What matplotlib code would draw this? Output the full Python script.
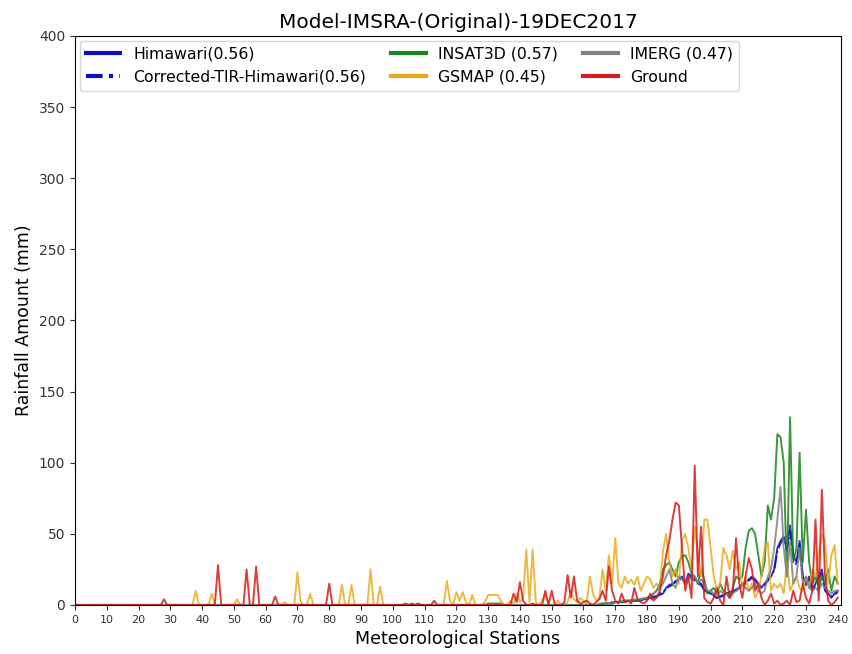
import numpy as np
import matplotlib.pyplot as plt

# ---- station readings (mm), stations 0..240 ----
stations = np.arange(241)

himawari = [
    0, 0, 0, 0, 0, 0, 0, 0, 0, 0, 0, 0, 0, 0, 0, 0, 0, 0, 0, 0,
    0, 0, 0, 0, 0, 0, 0, 0, 0, 0, 0, 0, 0, 0, 0, 0, 0, 0, 0, 0,
    0, 0, 0, 0, 0, 0, 0, 0, 0, 0, 0, 0, 0, 0, 0, 0, 0, 0, 0, 0,
    0, 0, 0, 0, 0, 0, 0, 0, 0, 0, 0, 0, 0, 0, 0, 0, 0, 0, 0, 0,
    0, 0, 0, 0, 0, 0, 0, 0, 0, 0, 0, 0, 0, 0, 0, 0, 0, 0, 0, 0,
    0, 0, 0, 0, 0, 0, 0, 0, 0, 0, 0, 0, 0, 0, 0, 0, 0, 0, 0, 0,
    0, 0, 0, 0, 0, 0, 0, 0, 0, 0, 0, 0, 0, 0, 0, 0, 0, 0, 0, 0,
    0, 0, 0, 0, 0, 0, 0, 0, 0, 0, 0, 0, 0, 0, 0, 0, 0, 0, 0, 0,
    0, 0, 0, 0, 0, 0, 1, 1, 1, 2, 2, 2, 2, 3, 3, 3, 3, 3, 4, 4,
    4, 5, 6, 6, 7, 8, 12, 14, 15, 16, 18, 20, 15, 22, 20, 18, 16, 15, 10, 9,
    8, 7, 5, 6, 7, 8, 9, 10, 10, 12, 15, 16, 18, 20, 18, 15, 12, 15, 18, 20,
    25, 40, 45, 48, 40, 56, 35, 30, 45, 20, 15, 20, 10, 15, 20, 25, 10, 8, 5, 8,
    10]

corrected = [
    0, 0, 0, 0, 0, 0, 0, 0, 0, 0, 0, 0, 0, 0, 0, 0, 0, 0, 0, 0,
    0, 0, 0, 0, 0, 0, 0, 0, 0, 0, 0, 0, 0, 0, 0, 0, 0, 0, 0, 0,
    0, 0, 0, 0, 0, 0, 0, 0, 0, 0, 0, 0, 0, 0, 0, 0, 0, 0, 0, 0,
    0, 0, 0, 0, 0, 0, 0, 0, 0, 0, 0, 0, 0, 0, 0, 0, 0, 0, 0, 0,
    0, 0, 0, 0, 0, 0, 0, 0, 0, 0, 0, 0, 0, 0, 0, 0, 0, 0, 0, 0,
    0, 0, 0, 0, 0, 0, 0, 0, 0, 0, 0, 0, 0, 0, 0, 0, 0, 0, 0, 0,
    0, 0, 0, 0, 0, 0, 0, 0, 0, 0, 0, 0, 0, 0, 0, 0, 0, 0, 0, 0,
    0, 0, 0, 0, 0, 0, 0, 0, 0, 0, 0, 0, 0, 0, 0, 0, 0, 0, 0, 0,
    0, 0, 0, 0, 0, 0, 1, 1, 1, 1, 2, 2, 2, 2, 3, 3, 3, 3, 3, 4,
    4, 4, 5, 6, 8, 9, 11, 13, 14, 17, 17, 19, 16, 20, 19, 17, 15, 14, 11, 9,
    8, 6, 5, 6, 6, 8, 8, 9, 11, 12, 14, 15, 17, 19, 17, 14, 13, 14, 17, 21,
    24, 38, 43, 47, 38, 52, 33, 28, 42, 19, 14, 18, 11, 14, 18, 22, 11, 7, 6, 7,
    9]

insat3d = [
    0, 0, 0, 0, 0, 0, 0, 0, 0, 0, 0, 0, 0, 0, 0, 0, 0, 0, 0, 0,
    0, 0, 0, 0, 0, 0, 0, 0, 0, 0, 0, 0, 0, 0, 0, 0, 0, 0, 0, 0,
    0, 0, 0, 0, 0, 0, 0, 0, 0, 0, 0, 0, 0, 0, 0, 0, 0, 0, 0, 0,
    0, 0, 0, 0, 0, 0, 0, 0, 0, 0, 0, 0, 0, 0, 0, 0, 0, 0, 0, 0,
    0, 0, 0, 0, 0, 0, 0, 0, 0, 0, 0, 0, 0, 0, 0, 0, 0, 0, 0, 0,
    0, 0, 0, 0, 0, 0, 0, 0, 0, 0, 0, 0, 0, 0, 0, 0, 0, 0, 0, 0,
    0, 0, 0, 0, 0, 0, 0, 0, 0, 0, 1, 1, 1, 1, 1, 0, 0, 0, 0, 0,
    0, 0, 0, 0, 0, 0, 0, 0, 0, 0, 0, 0, 0, 0, 0, 0, 0, 0, 0, 0,
    0, 0, 0, 0, 0, 0, 0, 1, 1, 1, 2, 2, 2, 2, 3, 3, 3, 3, 4, 4,
    5, 6, 8, 10, 15, 25, 28, 30, 25, 20, 30, 34, 35, 30, 22, 20, 15, 25, 18, 8,
    10, 12, 8, 15, 10, 8, 5, 12, 20, 18, 20, 40, 52, 54, 50, 35, 20, 30, 70, 60,
    75, 120, 118, 100, 20, 132, 30, 40, 107, 30, 67, 30, 15, 20, 12, 20, 15, 25, 10, 20,
    15]

gsmap = [
    0, 0, 0, 0, 0, 0, 0, 0, 0, 0, 0, 0, 0, 0, 0, 0, 0, 0, 0, 0,
    0, 0, 0, 0, 0, 0, 0, 0, 0, 0, 0, 0, 0, 0, 0, 0, 0, 0, 10, 0,
    0, 0, 0, 8, 0, 0, 0, 0, 0, 0, 0, 4, 0, 0, 0, 0, 0, 0, 0, 0,
    0, 0, 0, 0, 0, 0, 2, 0, 0, 0, 23, 2, 0, 0, 8, 0, 0, 0, 0, 0,
    0, 0, 0, 0, 14, 0, 0, 14, 0, 0, 0, 0, 0, 25, 0, 0, 13, 0, 0, 0,
    0, 0, 0, 0, 0, 0, 0, 0, 0, 0, 0, 0, 0, 0, 0, 0, 0, 17, 3, 0,
    9, 3, 9, 2, 0, 7, 0, 0, 0, 2, 7, 7, 7, 7, 3, 0, 0, 3, 0, 8,
    2, 5, 39, 2, 39, 2, 0, 3, 8, 0, 0, 0, 3, 0, 0, 2, 10, 4, 2, 5,
    3, 1, 20, 8, 3, 5, 25, 10, 35, 15, 47, 15, 12, 20, 15, 18, 14, 20, 10, 15,
    20, 18, 12, 15, 10, 38, 50, 30, 20, 25, 15, 45, 50, 40, 25, 55, 35, 20, 60, 60,
    40, 20, 10, 15, 40, 35, 25, 38, 25, 30, 12, 20, 10, 15, 5, 10, 20, 40, 44, 10,
    15, 12, 15, 8, 30, 10, 15, 20, 12, 10, 20, 12, 25, 20, 35, 50, 45, 15, 35, 42,
    15]

imerg = [
    0, 0, 0, 0, 0, 0, 0, 0, 0, 0, 0, 0, 0, 0, 0, 0, 0, 0, 0, 0,
    0, 0, 0, 0, 0, 0, 0, 0, 0, 0, 0, 0, 0, 0, 0, 0, 0, 0, 0, 0,
    0, 0, 0, 0, 0, 0, 0, 0, 0, 0, 0, 0, 0, 0, 0, 0, 0, 0, 0, 0,
    0, 0, 0, 0, 0, 0, 0, 0, 0, 0, 0, 0, 0, 0, 0, 0, 0, 0, 0, 0,
    0, 0, 0, 0, 0, 0, 0, 0, 0, 0, 0, 0, 0, 0, 0, 0, 0, 0, 0, 0,
    0, 0, 0, 0, 0, 0, 0, 0, 0, 0, 0, 0, 0, 0, 0, 0, 0, 0, 0, 0,
    0, 0, 0, 0, 0, 0, 0, 0, 0, 0, 0, 0, 0, 0, 0, 0, 0, 0, 0, 0,
    0, 0, 0, 0, 0, 0, 0, 0, 0, 0, 0, 0, 0, 0, 0, 0, 0, 0, 0, 0,
    0, 0, 0, 0, 0, 1, 1, 1, 1, 2, 2, 2, 3, 3, 3, 3, 4, 4, 4, 5,
    5, 6, 8, 10, 12, 15, 20, 25, 15, 12, 20, 18, 15, 20, 18, 20, 15, 18, 15, 10,
    10, 8, 6, 10, 8, 8, 5, 8, 10, 12, 15, 12, 10, 12, 15, 10, 8, 10, 20, 25,
    40, 60, 83, 40, 20, 45, 15, 20, 40, 15, 20, 12, 10, 12, 10, 15, 12, 10, 8, 10,
    10]

ground = [
    0, 0, 0, 0, 0, 0, 0, 0, 0, 0, 0, 0, 0, 0, 0, 0, 0, 0, 0, 0,
    0, 0, 0, 0, 0, 0, 0, 0, 4, 0, 0, 0, 0, 0, 0, 0, 0, 0, 0, 0,
    0, 0, 0, 0, 0, 28, 0, 0, 0, 0, 0, 0, 0, 0, 25, 0, 0, 27, 0, 0,
    0, 0, 0, 6, 0, 0, 0, 0, 0, 0, 0, 0, 0, 0, 0, 0, 0, 0, 0, 0,
    15, 0, 0, 0, 0, 0, 0, 0, 0, 0, 0, 0, 0, 0, 0, 0, 0, 0, 0, 0,
    0, 0, 0, 0, 1, 0, 1, 0, 1, 0, 0, 0, 0, 3, 0, 0, 0, 0, 0, 0,
    0, 0, 0, 0, 0, 0, 0, 0, 0, 0, 0, 0, 0, 0, 0, 0, 0, 0, 8, 2,
    16, 3, 0, 0, 1, 0, 0, 0, 10, 0, 10, 0, 0, 0, 2, 21, 5, 20, 3, 1,
    2, 3, 1, 0, 2, 4, 10, 3, 27, 10, 3, 1, 8, 2, 3, 1, 12, 4, 2, 1,
    3, 8, 3, 5, 10, 20, 35, 45, 60, 72, 70, 40, 10, 20, 5, 98, 20, 55, 5, 2,
    1, 5, 12, 3, 0, 20, 5, 10, 47, 15, 5, 20, 33, 25, 10, 15, 5, 0, 3, 8,
    1, 3, 0, 1, 3, 0, 10, 2, 3, 15, 5, 1, 10, 60, 3, 81, 20, 3, 0, 2,
    5]

# ---- Plot ----
fig = plt.figure(figsize=(8.52, 6.54), dpi=100)
ax = fig.add_axes([0.088, 0.075, 0.899, 0.87])

ax.plot(stations, himawari, color="#1010c0", lw=1.4, alpha=0.85, label="Himawari(0.56)")
ax.plot(stations, corrected, color="#1010c0", lw=1.4, ls="-.", alpha=0.85,
        label="Corrected-TIR-Himawari(0.56)")
ax.plot(stations, insat3d, color="#1a851a", lw=1.4, alpha=0.85, label="INSAT3D (0.57)")
ax.plot(stations, gsmap, color="#e8a817", lw=1.4, alpha=0.8, label="GSMAP (0.45)")
ax.plot(stations, imerg, color="#808080", lw=1.4, alpha=0.85, label="IMERG (0.47)")
ax.plot(stations, ground, color="#d41c1c", lw=1.4, alpha=0.85, label="Ground")

ax.set_xlim(0, 241)
ax.set_ylim(0, 400)
ax.set_xticks(np.arange(0, 241, 10))
ax.set_yticks(np.arange(0, 401, 50))
ax.tick_params(axis="x", labelsize=8, colors="#333333")
ax.tick_params(axis="y", labelsize=10, colors="#333333")
ax.set_title("Model-IMSRA-(Original)-19DEC2017", fontsize=14.5)
ax.set_xlabel("Meteorological Stations", fontsize=12.5)
ax.set_ylabel("Rainfall Amount (mm)", fontsize=12.5)

leg = ax.legend(loc="upper left", ncol=3, fontsize=11.3, handlelength=2.2,
                columnspacing=1.6, borderaxespad=0.3)
for i, line in enumerate(leg.get_lines()):
    line.set_linewidth(3)
    line.set_alpha(1)
    if i == 1:
        line.set_dashes([4, 1.5, 1, 1.5])

plt.savefig("out.png", dpi=100)
